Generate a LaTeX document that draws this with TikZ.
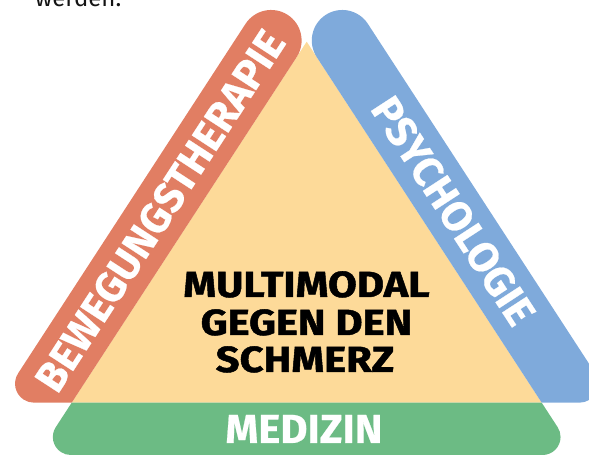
\documentclass[tikz,border=0pt]{standalone}
\usepackage{fontspec}
\setmainfont{Fira Sans}
\newfontfamily\heavyfont{Fira Sans}[BoldFeatures={FakeBold=1.2}]
\newfontfamily\medfont{Fira Sans}[BoldFeatures={FakeBold=0.5}]
\definecolor{cred}{RGB}{225,126,99}
\definecolor{cblue}{RGB}{127,170,219}
\definecolor{cgreen}{RGB}{108,187,132}
\definecolor{cfill}{RGB}{253,218,153}
\definecolor{ctext}{RGB}{20,20,20}
\begin{document}
\begin{tikzpicture}[x=1pt,y=1pt,
  barlab/.style={text=white,inner sep=0pt,font=\medfont\bfseries\fontsize{42}{42}\selectfont,text height=29pt,text depth=0pt},
  midlab/.style={text=black,inner sep=0pt,anchor=base,font=\heavyfont\bfseries\fontsize{36.3}{37.5}\selectfont}]
\useasboundingbox (0,0) rectangle (589,455);
\clip (0,0) rectangle (589,455);
\coordinate (A) at (306.7,413.3);
\coordinate (BL) at (71.7,52.3);
\coordinate (BR) at (541.7,52.3);
% centre triangle
\fill[cfill] (A) -- (BL) -- (BR) -- cycle;
% left bar
\fill[cred] (BL) -- (296.66,397.88) arc[start angle=-33.07,end angle=146.93,radius=30.5]
  -- (18.12,81.68) arc[start angle=146.93,end angle=270,radius=19] -- cycle;
% right bar
\fill[cblue] (BR) -- (316.74,397.88) arc[start angle=213.07,end angle=33.07,radius=30.5]
  -- (595.28,81.68) arc[start angle=33.07,end angle=-90,radius=19] -- cycle;
% bottom bar
\fill[cgreen] (BL) -- (55.76,27.82) arc[start angle=146.93,end angle=270,radius=18]
  -- (542.56,0) arc[start angle=270,end angle=393.07,radius=18] -- (BR) -- cycle;
% labels
\node[barlab,rotate=56.93] (bew) at (160.1,244.1) {BEWEGUNGSTHERAPIE};
\node[barlab,rotate=-56.93] (psy) at (453.3,244.1) {PSYCHOLOGIE};
\node[barlab,anchor=base,font=\medfont\bfseries\fontsize{40.6}{40.6}\selectfont,text height=28pt] (med) at (304,12) {\scalebox{1.03}[1]{MEDIZIN}};
\node[midlab] (m1) at (306.5,158) {\scalebox{1.15}[1]{MULTIMODAL}};
\node[midlab] (m2) at (306.5,120) {\scalebox{1.15}[1]{GEGEN DEN}};
\node[midlab] (m3) at (305,83) {\scalebox{1.15}[1]{SCHMERZ}};
\node[text=ctext,inner sep=0pt,anchor=base west,font=\fontsize{24}{24}\selectfont] (wd) at (35,448) {werden.};
\end{tikzpicture}
\end{document}
